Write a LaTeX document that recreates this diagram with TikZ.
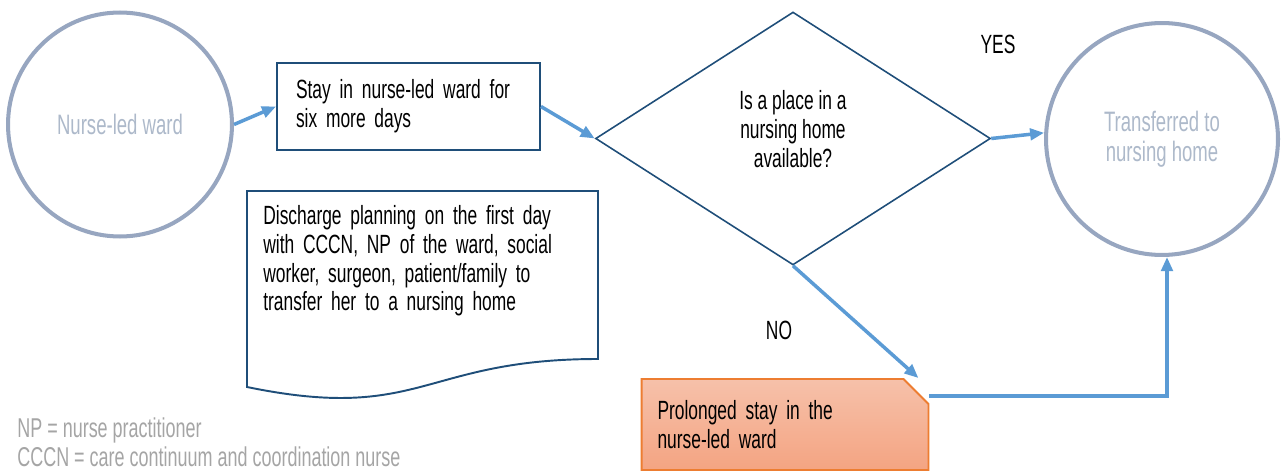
\documentclass[tikz,border=0pt]{standalone}
\usepackage{fontspec}
\setmainfont{Liberation Sans}[FakeStretch=0.66]
\usepackage{xcolor}
\usepackage{tikz}
\usetikzlibrary{arrows.meta}
\usetikzlibrary{shapes.geometric,shapes.misc}
\definecolor{flowblue}{RGB}{91,155,213}
\definecolor{boxblue}{RGB}{31,78,121}
\definecolor{ringgrey}{RGB}{151,166,192}
\definecolor{ringtext}{RGB}{173,185,202}
\definecolor{legendgrey}{RGB}{165,165,165}
\definecolor{orangeline}{RGB}{237,125,49}
\definecolor{orangetop}{RGB}{246,193,170}
\definecolor{orangebot}{RGB}{244,164,130}
\tikzset{
  flow/.style={flowblue, line width=2pt, -{Triangle[length=8pt,width=6.5pt]}},
  endcircle/.style={circle, draw=ringgrey, line width=2.3pt, text=ringtext, align=center, inner sep=0pt, minimum size=#1, font=\fontsize{16}{17}\selectfont},
  stepbox/.style={rectangle, draw=boxblue, line width=1.1pt, align=left, inner xsep=0.36cm, text width=4.5cm, minimum width=5.26cm, minimum height=1.74cm},
  decision/.style={diamond, draw=boxblue, line width=0.9pt, align=center, inner sep=0pt, minimum width=7.9cm, minimum height=5.06cm},
  delaybox/.style={chamfered rectangle, chamfered rectangle corners=north east, chamfered rectangle xsep=0.22cm, chamfered rectangle ysep=0.28cm,
    draw=orangeline, line width=1.1pt, top color=orangetop, bottom color=orangebot, align=left, inner xsep=0.1cm, text width=5.1cm, minimum width=5.36cm, minimum height=1.82cm},
  legend/.style={text=legendgrey, font=\fontsize{15.5}{17}\selectfont, inner sep=0pt}
}

\begin{document}
\begin{tikzpicture}[x=0.02cm, y=-0.02cm, font=\fontsize{15}{16.4}\selectfont]
\useasboundingbox (0,0) rectangle (1281,473);
\node[endcircle=4.48cm] (ward) at (120,124.5) {Nurse-led ward};
\node[stepbox] (stay) at (408.5,106.5) {Stay in nurse-led ward for\\six more days};
\node[decision] (ask) at (793,138.5) {Is a place in a\\nursing home\\available?\\[-0.2cm]\mbox{}};
\node[endcircle=4.64cm] (home) at (1162,139) {Transferred to\\nursing home};
\node[delaybox] (prolong) at (785,424.5) {Prolonged stay in the\\nurse-led ward};
\node (yes) at (998,44) {YES};
\node (no) at (779,330) {NO};
% discharge note with wavy lower edge
\draw[boxblue, line width=1.1pt] (247,191) -- (598,191) -- (598,359) .. controls (422,359) and (422,423) .. (247,387) -- cycle;
\node[anchor=north west, align=left, inner sep=0pt, text width=6.6cm] (plan) at (263,205) {Discharge planning on the first day\\with CCCN, NP of the ward, social\\worker, surgeon, patient/family to\\transfer her to a nursing home};
\node[legend, anchor=base west] (np) at (17,437) {NP = nurse practitioner};
\node[legend, anchor=base west] (cccn) at (17,466) {CCCN = care continuum and coordination nurse};
\coordinate (snip) at ([xshift=-0.22cm]prolong.east |- prolong.north);
\coordinate (bend) at (1167,396);
\draw[flow] (ward.east) -- (stay.west);
\draw[flow] (stay.east) -- (ask.west);
\draw[flow] (ask.east) -- (home.177);
\draw[flow] (ask.south) -- (snip);
\draw[flow] (prolong.east |- bend) -- (bend) -- (bend |- home.south);
\end{tikzpicture}
\end{document}
